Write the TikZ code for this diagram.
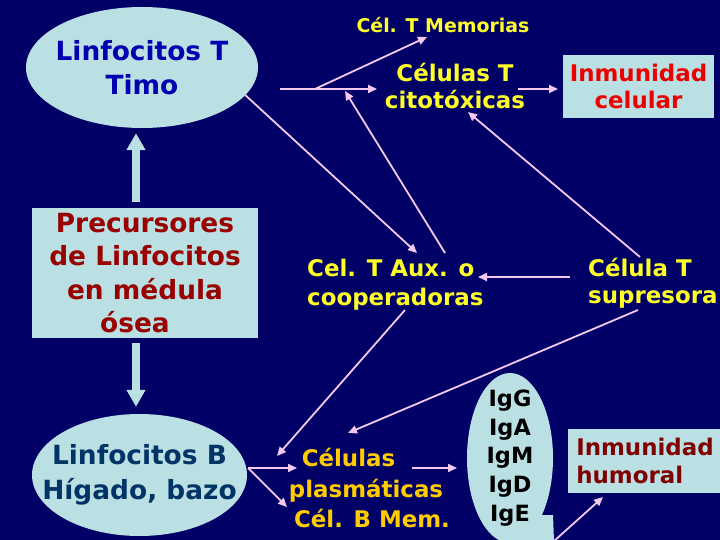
\documentclass[tikz,border=0pt]{standalone}
\usepackage{fontspec}
\setmainfont{DejaVu Sans}
\usetikzlibrary{arrows.meta,shapes.geometric}
\definecolor{fondo}{RGB}{0,0,102}
\definecolor{celeste}{RGB}{187,224,228}
\definecolor{rosa}{RGB}{245,200,240}
\definecolor{amarillo}{RGB}{255,255,40}
\definecolor{oro}{RGB}{255,204,0}
\definecolor{rojo}{RGB}{235,0,0}
\definecolor{granate}{RGB}{153,0,0}
\definecolor{vino}{RGB}{128,0,0}
\definecolor{azul}{RGB}{0,0,176}
\definecolor{azuloscuro}{RGB}{0,51,102}
\begin{document}
\begin{tikzpicture}[x=1bp,y=-1bp]
  \tikzset{
    caja/.style={fill=celeste,inner sep=0pt,align=center},
    ovalo/.style={caja,ellipse,inner xsep=-30bp,inner ysep=-10bp},
    grande/.style={font=\bfseries\fontsize{26.5}{#1}\selectfont},
    letra/.style={inner sep=0pt,font=\bfseries\fontsize{23}{#1}\selectfont},
    flecha/.style={draw=rosa,line width=1.8bp,-{Triangle[width=8bp,length=9bp]}},
    linea/.style={draw=rosa,line width=1.8bp},
    gruesa/.style={draw=celeste,line width=8bp,-{Triangle[width=18bp,length=17bp]}}}
  \useasboundingbox (0,0) rectangle (720,540);
  \fill[fondo] (0,0) rectangle (720,540);
  % columna izquierda
  \node[ovalo,minimum width=232bp,minimum height=121bp,text=azul,grande=34] (timo) at (142,67.5) {Linfocitos T\\Timo};
  \node[caja,minimum width=226bp,minimum height=130bp,text=granate,grande=33.3] (prec) at (145,273)
    {Precursores\\de Linfocitos\\en médula\hspace*{10bp}\\ósea\hspace*{20bp}};
  \node[ovalo,minimum width=215bp,minimum height=122bp,text=azuloscuro,grande=35] (linB) at (139.5,475) {Linfocitos B\\Hígado, bazo};
  \draw[gruesa] ([shift={(-9,-6)}]prec.north) -- ([shift={(-6,5)}]timo.south);
  \draw[gruesa] ([shift={(-9,5)}]prec.south) -- ([shift={(-3.5,-7)}]linB.north);
  % linfocitos T
  \node[inner sep=0pt,text=amarillo,font=\bfseries\fontsize{19}{23}\selectfont] (mem) at (443,25) {Cél. T Memorias};
  \node[letra=27,text=amarillo,align=center] (cito) at (455,86) {Células T\\citotóxicas};
  \node[caja,minimum width=151bp,minimum height=63bp,text=rojo,font=\bfseries\fontsize{23}{27}\selectfont] (celular) at (638.5,86.5) {Inmunidad\\celular};
  \node[letra=29,text=amarillo,align=left,anchor=west] (aux) at (307,284.8) {Cel. T Aux. o\\cooperadoras};
  \node[letra=27,text=amarillo,align=left,anchor=west] (supr) at (588,283.5) {Célula T\\supresora};
  % linfocitos B
  \node[letra=31,text=oro,align=center] (plas) at (366,488) {Células\hspace*{35bp}\\plasmáticas\\\hspace*{12bp}Cél. B Mem.};
  \node[ovalo,minimum width=86bp,minimum height=170bp,font=\bfseries\fontsize{22.5}{29}\selectfont] (ig) at (510,458) {IgG\\IgA\\IgM\\IgD\\IgE};
  \fill[celeste] (541,515) -- (553,515) -- (554,541) -- (515,541) -- cycle;
  \node[caja,minimum width=154bp,minimum height=64bp,align=left,text=vino,font=\bfseries\fontsize{23}{28}\selectfont] (humoral) at (645,461) {Inmunidad\\humoral};
  % conexiones
  \coordinate (rama) at (280,89);
  \coordinate (cola) at (553,542);
  \coordinate (jB) at ([shift={(1,-7)}]linB.east);
  \draw[flecha] (rama) -- ([shift={(-78,3)}]cito.center);
  \draw[flecha] ([shift={(35,0)}]rama) -- ([shift={(-16,12)}]mem.center);
  \draw[flecha] ([shift={(138,-31.8)}]aux.west) -- ([shift={(65,2)}]rama);
  \draw[flecha] (timo.-15) -- ([shift={(110,-31.8)}]aux.west);
  \draw[flecha] ([shift={(52,-26.5)}]supr.west) -- ([shift={(13,26)}]cito.center);
  \draw[flecha] ([shift={(-18,-6.5)}]supr.west) -- ([shift={(171,-7.8)}]aux.west);
  \draw[flecha] ([shift={(63,3)}]cito.center) -- ([shift={(-80.5,2.5)}]celular.center);
  \draw[flecha] ([shift={(98,25.2)}]aux.west) -- ([shift={(-89,-32)}]plas.center);
  \draw[flecha] ([shift={(50,26.5)}]supr.west) -- ([shift={(-18,-55)}]plas.center);
  \draw[flecha] (jB) -- ([shift={(-69,-20)}]plas.center);
  \draw[flecha] (jB) -- ([shift={(-79,19)}]plas.center);
  \draw[flecha] ([shift={(46,-20)}]plas.center) -- ([shift={(-53,10)}]ig.center);
  \draw[flecha] (cola) -- ([shift={(-42,36)}]humoral.center);
\end{tikzpicture}
\end{document}
